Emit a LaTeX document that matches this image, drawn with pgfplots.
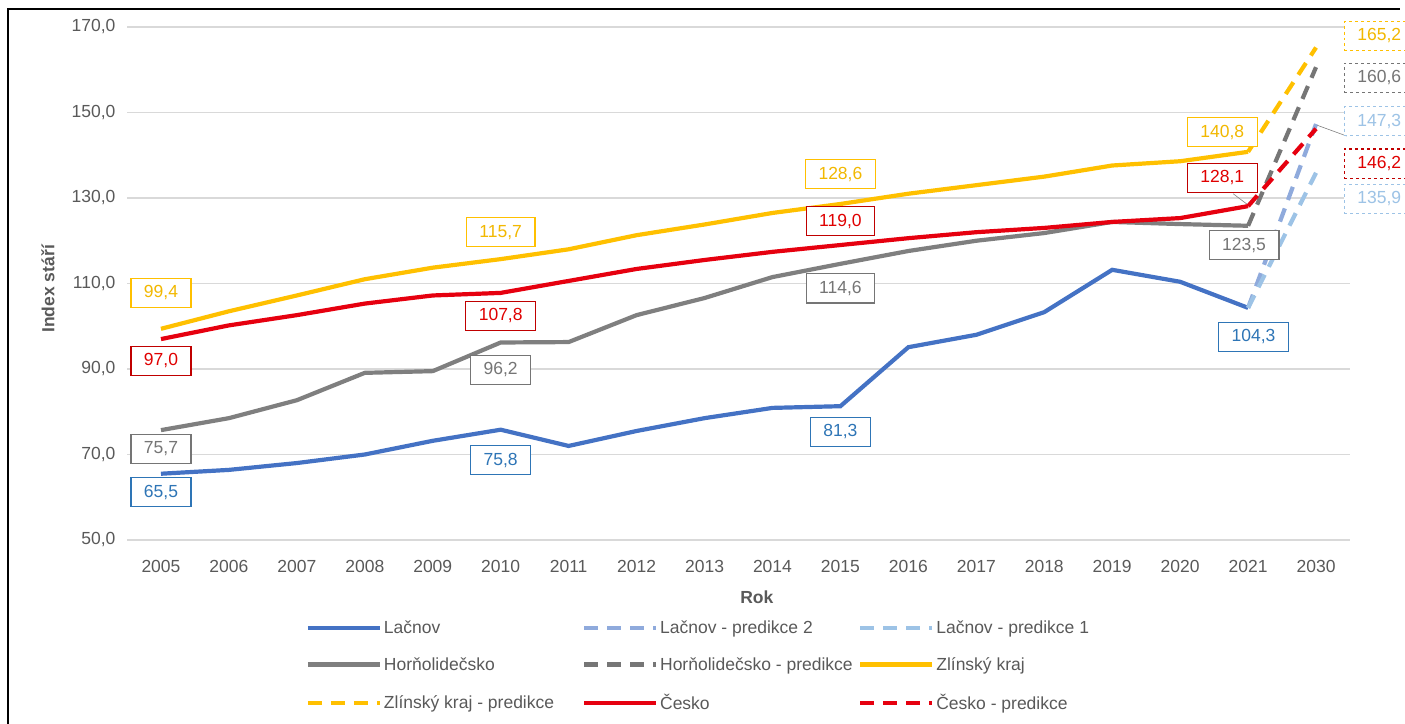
\documentclass[border=0pt]{standalone}
\usepackage{pgfplots}
\pgfplotsset{compat=1.18}
\usepackage{pgfplotstable}
\usepackage{fontspec}
\setmainfont{Liberation Sans}
\definecolor{cLac}{HTML}{4472C4}
\definecolor{cLacPb}{HTML}{8FAADC}
\definecolor{cLacPa}{HTML}{9DC3E6}
\definecolor{cHor}{HTML}{7F7F7F}
\definecolor{cHorP}{HTML}{767676}
\definecolor{cZlin}{HTML}{FFC000}
\definecolor{cCes}{HTML}{E6000F}
\definecolor{tBlue}{HTML}{2E75B6}
\definecolor{tGray}{HTML}{757575}
\definecolor{tYel}{HTML}{F2B800}
\definecolor{tRed}{HTML}{E00000}
\definecolor{bRed}{HTML}{C00000}
\definecolor{txt}{HTML}{595959}
\definecolor{grid}{HTML}{D9D9D9}
\newcommand\fs{\fontsize{17.5bp}{21bp}\selectfont}
\newcommand\fl{\fontsize{17.5bp}{20bp}\selectfont}
\pgfplotstableread{
x lac hor zlin ces
0 65.5 75.7 99.4 97.0
1 66.4 78.5 103.5 100.2
2 68.0 82.7 107.2 102.6
3 70.0 89.1 111.0 105.3
4 73.2 89.5 113.7 107.2
5 75.8 96.2 115.7 107.8
6 72.0 96.3 118.0 110.6
7 75.5 102.6 121.3 113.4
8 78.5 106.6 123.8 115.5
9 80.9 111.5 126.5 117.4
10 81.3 114.6 128.6 119.0
11 95.1 117.6 131.0 120.6
12 98.0 120.0 133.0 122.0
13 103.3 121.8 135.0 123.0
14 113.2 124.4 137.6 124.4
15 110.4 123.9 138.6 125.3
16 104.3 123.5 140.8 128.1
}\main
\tikzset{
  lbl/.style={draw=#1, fill=white, line width=1.2bp, inner xsep=13bp, inner ysep=7.5bp, font=\fl, anchor=center},
}
\begin{document}
\begin{tikzpicture}
\useasboundingbox (0bp,0bp) rectangle (1405bp,724bp);
\draw[line width=1.5bp] (8bp,0bp) -- (8bp,715bp) -- (1400bp,715bp);
\begin{axis}[
  at={(127bp,184bp)}, anchor=south west,
  width=1223bp, height=513bp, scale only axis,
  xmin=-0.5, xmax=17.5, ymin=50, ymax=170,
  xtick={0,...,17},
  xticklabels={2005,2006,2007,2008,2009,2010,2011,2012,2013,2014,2015,2016,2017,2018,2019,2020,2021,2030},
  ytick={50,70,90,110,130,150,170},
  /pgf/number format/.cd, fixed, fixed zerofill, precision=1, use comma, assume math mode=true,
  /pgfplots/.cd,
  axis line style={draw=none},
  major tick length=0pt,
  ymajorgrids, grid style={color=grid, line width=1.2bp},
  ticklabel style={font=\fs, text=txt},
  yticklabel style={xshift=-8bp},
  xticklabel style={yshift=-17bp},
  xlabel={\textbf{Rok}}, ylabel={\textbf{Index stáří}},
  xlabel style={font=\fs, text=txt, at={(axis description cs:0.515,-0.111)}, anchor=center},
  ylabel style={font=\fs, text=txt, at={(axis description cs:-0.0646,0.49)}, anchor=center},
  clip=false,
  legend columns=3,
  legend style={at={(axis description cs:0.146,-0.153)}, anchor=north west, draw=none, fill=none,
    font=\fs, text=txt, inner sep=0pt, row sep=18.5bp,
    /tikz/every even column/.append style={column sep=8bp}},
  legend image code/.code={\draw[#1] (0bp,0bp) -- (72bp,0bp);},
]
\addplot[cLac, line width=4.2bp] table[x=x,y=lac] {\main};
\addlegendentry{\makebox[188bp][l]{Lačnov}}
\addplot[cLacPb, line width=4.2bp, dash pattern=on 14bp off 9bp] coordinates {(16,104.3) (17,147.3)};
\addlegendentry{\makebox[188bp][l]{Lačnov - predikce 2}}
\addplot[cLacPa, line width=4.2bp, dash pattern=on 14bp off 9bp] coordinates {(16,104.3) (17,135.9)};
\addlegendentry{\makebox[188bp][l]{Lačnov - predikce 1}}
\addplot[cHor, line width=4.2bp] table[x=x,y=hor] {\main};
\addlegendentry{\makebox[188bp][l]{Horňolidečsko}}
\addplot[cHorP, line width=4.2bp, dash pattern=on 14bp off 9bp] coordinates {(16,123.5) (17,160.6)};
\addlegendentry{\makebox[188bp][l]{Horňolidečsko - predikce}}
\addplot[cZlin, line width=4.2bp] table[x=x,y=zlin] {\main};
\addlegendentry{\makebox[188bp][l]{Zlínský kraj}}
\addplot[cZlin, line width=4.2bp, dash pattern=on 14bp off 9bp] coordinates {(16,140.8) (17,165.2)};
\addlegendentry{\makebox[188bp][l]{Zlínský kraj - predikce}}
\addplot[cCes, line width=4.2bp] table[x=x,y=ces] {\main};
\addlegendentry{\makebox[188bp][l]{Česko}}
\addplot[cCes, line width=4.2bp, dash pattern=on 14bp off 9bp] coordinates {(16,128.1) (17,146.2)};
\addlegendentry{\makebox[188bp][l]{Česko - predikce}}
% leader lines
\draw[gray, line width=0.6bp] (axis cs:17.02,147.0) -- (axis cs:17.45,144.5);
\draw[gray, line width=0.6bp] (axis cs:15.78,131.0) -- (axis cs:15.98,128.6);
% labels Lacnov
\node[lbl=tBlue, text=tBlue] at (axis cs:0,61.2) {65,5};
\node[lbl=tBlue, text=tBlue] at (axis cs:5,68.7) {75,8};
\node[lbl=tBlue, text=tBlue] at (axis cs:10,75.3) {81,3};
\node[lbl=tBlue, text=tBlue] at (axis cs:16.08,97.5) {104,3};
% Hornolidecsko
\node[lbl=tGray, text=tGray] at (axis cs:0,71.3) {75,7};
\node[lbl=tGray, text=tGray] at (axis cs:5,89.8) {96,2};
\node[lbl=tGray, text=tGray] at (axis cs:10,108.9) {114,6};
\node[lbl=tGray, text=tGray] at (axis cs:15.94,119.0) {123,5};
\node[lbl=tGray, text=tGray, dashed] at (axis cs:17.93,158.1) {160,6};
% Zlinsky kraj
\node[lbl=cZlin, text=tYel] at (axis cs:0,107.8) {99,4};
\node[lbl=cZlin, text=tYel] at (axis cs:5,122.0) {115,7};
\node[lbl=cZlin, text=tYel] at (axis cs:10,135.6) {128,6};
\node[lbl=cZlin, text=tYel] at (axis cs:15.62,145.4) {140,8};
\node[lbl=cZlin, text=tYel, dashed] at (axis cs:17.93,167.9) {165,2};
% Cesko
\node[lbl=bRed, text=tRed] at (axis cs:0,91.9) {97,0};
\node[lbl=bRed, text=tRed] at (axis cs:5,102.4) {107,8};
\node[lbl=bRed, text=tRed] at (axis cs:10,124.6) {119,0};
\node[lbl=bRed, text=tRed] at (axis cs:15.62,134.7) {128,1};
\node[lbl=bRed, text=tRed, dashed] at (axis cs:17.93,138.0) {146,2};
% Lacnov predictions
\node[lbl=cLacPa, text=cLacPa, dashed] at (axis cs:17.93,148.0) {147,3};
\node[lbl=cLacPa, text=cLacPa, dashed] at (axis cs:17.93,129.8) {135,9};
\end{axis}
\end{tikzpicture}
\end{document}
